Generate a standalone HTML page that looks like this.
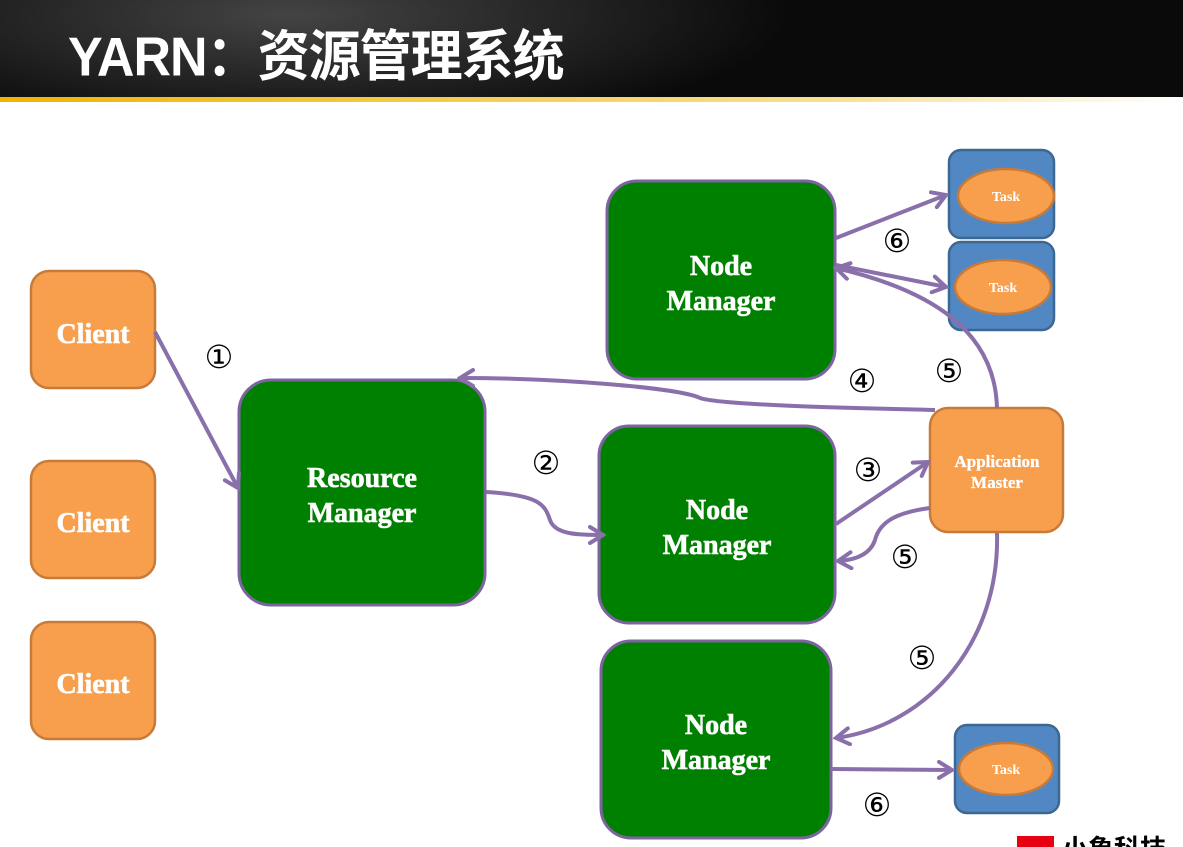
<!DOCTYPE html>
<html><head><meta charset="utf-8"><style>
body{margin:0;width:1183px;height:847px;overflow:hidden;background:#fff;font-family:"Liberation Serif",serif}
.hd{position:absolute;left:0;top:0;width:1183px;height:97px;background:radial-gradient(ellipse 500px 120px at 290px 15px,#444,#0a0a0a)}
.gl{position:absolute;left:0;top:97px;width:1183px;height:5px;background:linear-gradient(90deg,#f0b400,#f8e090 70%,#fff)}
.t{position:absolute;left:68px;top:12px;color:#fff;font:bold 52px "Liberation Sans","Noto Sans CJK SC",sans-serif;letter-spacing:-1px;transform:scaleY(1.06);transform-origin:top left}
</style></head><body>
<div class="hd"></div><div class="gl"></div>
<div class="t">YARN：资源管理系统</div>
<svg width="1183" height="847" style="position:absolute;left:0;top:0">
<defs><marker id="a" markerWidth="18" markerHeight="20" refX="15" refY="10" orient="auto" markerUnits="userSpaceOnUse"><polyline points="2,2 15,10 2,18" fill="none" stroke="#8a70ab" stroke-width="4" stroke-linecap="round"/></marker></defs>
<g fill="#f79f4d" stroke="#c87a38" stroke-width="2.5">
<rect x="31" y="271" width="124" height="117" rx="18"/>
<rect x="31" y="461" width="124" height="117" rx="18"/>
<rect x="31" y="622" width="124" height="117" rx="18"/>
<rect x="930" y="408" width="133" height="124" rx="18"/>
</g>
<g fill="#008000" stroke="#7d63a0" stroke-width="3">
<rect x="239" y="380" width="246" height="225" rx="32"/>
<rect x="607" y="181" width="228" height="198" rx="30"/>
<rect x="599" y="426" width="236" height="197" rx="30"/>
<rect x="601" y="641" width="230" height="197" rx="30"/>
</g>
<g fill="#5188c4" stroke="#3d6793" stroke-width="2.5">
<rect x="949" y="150" width="105" height="88" rx="12"/>
<rect x="949" y="242" width="105" height="88" rx="12"/>
<rect x="955" y="725" width="104" height="88" rx="12"/>
</g>
<g fill="#f79f4d" stroke="#c87a38" stroke-width="2.5">
<ellipse cx="1006" cy="196" rx="48" ry="27"/>
<ellipse cx="1003" cy="287" rx="48" ry="27"/>
<ellipse cx="1006" cy="769" rx="47" ry="26"/>
</g>
<g fill="#fff" font-weight="bold" text-anchor="middle" stroke="#fff" stroke-width="0.6">
<text x="93" y="343" font-size="28">Client</text>
<text x="93" y="532" font-size="28">Client</text>
<text x="93" y="693" font-size="28">Client</text>
<text x="362" y="487" font-size="28">Resource</text><text x="362" y="522" font-size="28">Manager</text>
<text x="721" y="275" font-size="28">Node</text><text x="721" y="310" font-size="28">Manager</text>
<text x="717" y="519" font-size="28">Node</text><text x="717" y="554" font-size="28">Manager</text>
<text x="716" y="734" font-size="28">Node</text><text x="716" y="769" font-size="28">Manager</text>
<text x="997" y="467" font-size="17" stroke-width="0.3">Application</text><text x="997" y="488" font-size="17" stroke-width="0.3">Master</text>
<text x="1006" y="201" font-size="14" stroke-width="0">Task</text>
<text x="1003" y="292" font-size="14" stroke-width="0">Task</text>
<text x="1006" y="774" font-size="14" stroke-width="0">Task</text>
</g>
<g fill="none" stroke="#8a70ab" stroke-width="4" marker-end="url(#a)">
<line x1="155" y1="332" x2="238" y2="488"/>
<path d="M486 492 C540 495 545 505 550 520 C555 535 580 535 603 535"/>
<path d="M935 410 C850 408 720 405 700 398 C680 388 560 378 460 378"/>
<line x1="836" y1="524" x2="928" y2="462"/>
<path d="M930 508 C900 512 880 520 875 540 C870 555 855 560 838 561"/>
<path d="M997 408 C995 330 930 290 836 268"/>
<path d="M997 533 C1000 640 930 725 836 738"/>
<line x1="836" y1="238" x2="946" y2="195"/>
<line x1="836" y1="265" x2="946" y2="287"/>
<line x1="831" y1="769" x2="952" y2="770"/>
</g>
<g font-family="'Liberation Serif','DejaVu Sans',serif" font-size="32" fill="#000" text-anchor="middle">
<text x="219" y="368">①</text><text x="546" y="474">②</text><text x="868" y="481">③</text>
<text x="862" y="392">④</text><text x="949" y="382">⑤</text><text x="905" y="568">⑤</text>
<text x="922" y="669">⑤</text><text x="897" y="252">⑥</text><text x="877" y="816">⑥</text>
</g>
<rect x="1017" y="836" width="37" height="14" fill="#e60012"/>
<text x="1062" y="858" font-family="'Noto Sans CJK SC',sans-serif" font-size="26" font-weight="bold">小象科技</text>
</svg>
</body></html>
